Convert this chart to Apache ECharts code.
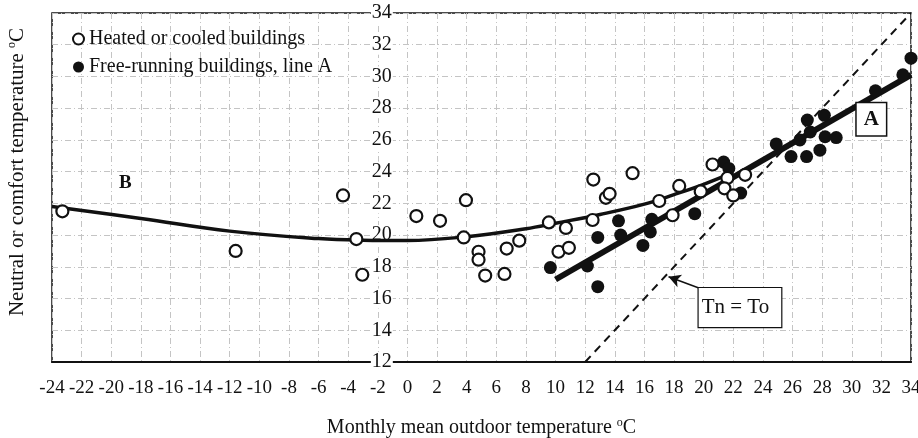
<!DOCTYPE html>
<html><head><meta charset="utf-8">
<script src="https://cdn.jsdelivr.net/npm/echarts@6/dist/echarts.min.js"></script>
<style>html,body{margin:0;padding:0;background:#fff}#c{width:918px;height:438px}</style>
</head><body><div id="c"></div>
<script>
// ---- data ----
const heated = [[-23.3,21.5],[-11.6,19.0],[-4.35,22.5],[-3.45,19.75],[-3.05,17.5],[0.6,21.2],[2.2,20.9],[3.95,22.2],[3.8,19.85],[4.8,18.95],[4.8,18.45],[5.25,17.45],[6.55,17.55],[6.7,19.15],[7.55,19.65],[9.55,20.8],[10.7,20.45],[10.2,18.95],[10.9,19.2],[12.55,23.5],[12.5,20.95],[13.4,22.35],[13.65,22.6],[15.2,23.9],[17.0,22.15],[18.35,23.1],[17.9,21.25],[19.8,22.75],[20.6,24.45],[21.6,23.6],[22.8,23.8],[21.4,22.95],[22.0,22.5]];
const freeRunning = [[9.65,17.95],[12.15,18.05],[12.85,16.75],[12.85,19.85],[14.25,20.9],[14.4,20.0],[15.9,19.35],[16.5,21.0],[16.4,20.2],[19.4,21.35],[21.35,24.6],[21.7,24.2],[22.5,22.65],[24.9,25.75],[25.9,24.95],[26.5,26.0],[26.95,24.95],[27.0,27.25],[27.85,25.35],[28.15,27.55],[28.2,26.2],[28.95,26.15],[27.2,26.5],[31.6,29.1],[33.45,30.1],[34.0,31.15]];
const curveB = [[-24,21.8],[-18,21.05],[-12,20.25],[-6,19.78],[-3,19.68],[0,19.66],[4,19.9],[8,20.4],[10,20.75],[13,21.3],[16,21.95],[18,22.55],[20,23.2],[22,23.95]];
const lineA = [[10,17.2],[34,30.1]];
const lineTnTo = [[12,12],[34,34]];
const labelB = [-19.05,23.26];
const labelA = [31.32,27.3];
const labelTn = [22.45,15.43];
const arrowTn = [[19.77,16.63],[17.63,17.37]];
const xMin=-24, xMax=34, xStep=2, yMin=12, yMax=34, yStep=2;
const yAxisAt = -2;
const legendNames = ['Heated or cooled buildings','Free-running buildings, line A'];

const FONT = "'Liberation Serif','Times New Roman',serif";
const chart = echarts.init(document.getElementById('c'), null, {renderer:'canvas'});
const splitStyle = {show:true, lineStyle:{color:'#c4c4c4', width:1, type:[6,3,1,3]}};
const supRich = {sup:{fontSize:12, fontFamily:FONT, padding:[0,0,10,0], color:'#111'}};
const option = {
  animation:false,
  backgroundColor:'#fff',
  textStyle:{fontFamily:FONT, color:'#111'},
  grid:{left:52, right:7, top:13, bottom:76, containLabel:false, outerBoundsMode:'none',
        show:true, borderColor:'#111', borderWidth:1.5, backgroundColor:'transparent'},
  legend:{
    data:legendNames, orient:'vertical', left:67, top:24, itemWidth:11, itemHeight:11, itemGap:8,
    textStyle:{fontFamily:FONT, fontSize:20, color:'#111'}
  },
  xAxis:{
    type:'value', min:xMin, max:xMax, interval:xStep,
    name:'Monthly mean outdoor temperature {sup|o}C', nameLocation:'middle', nameGap:55,
    nameTextStyle:{fontFamily:FONT, fontSize:20, color:'#111', rich:supRich},
    axisLine:{show:true, onZero:false, lineStyle:{color:'#111', width:2}},
    axisTick:{show:false},
    axisLabel:{fontFamily:FONT, fontSize:19, color:'#111', margin:17},
    splitLine:splitStyle
  },
  yAxis:[{
    type:'value', min:yMin, max:yMax, interval:yStep, position:'left', offset:0,
    axisLine:{show:false, onZero:false},
    axisTick:{show:false},
    axisLabel:{fontFamily:FONT, fontSize:20, color:'#111', align:'center', margin:-4, backgroundColor:'#fff', padding:[0,1]},
    splitLine:splitStyle
  },{
    type:'value', min:yMin, max:yMax, position:'left',
    axisLine:{show:false}, axisTick:{show:false}, axisLabel:{show:false}, splitLine:{show:false},
    name:'Neutral or comfort temperature {sup|o}C', nameLocation:'middle', nameGap:24,
    nameTextStyle:{fontFamily:FONT, fontSize:21, color:'#111', padding:[0,0,0,31], rich:supRich}
  }],
  series:[
    {type:'line', name:'Tn=To', data:lineTnTo, showSymbol:false, symbol:'none', z:2,
     lineStyle:{color:'#111', width:2, type:[8,6]},
     markPoint:{symbol:'rect', symbolSize:1, itemStyle:{color:'transparent'}, silent:true, data:[
       {coord:labelB, label:{show:true, position:'inside', formatter:'B', fontFamily:FONT, fontSize:19, fontWeight:'bold', color:'#111'}},
       {coord:labelA, label:{show:true, position:'inside', formatter:'A', fontFamily:FONT, fontSize:21, fontWeight:'bold', color:'#111', backgroundColor:'#fff', borderColor:'#111', borderWidth:1.5, padding:[6,7,5,7]}},
       {coord:labelTn, label:{show:true, position:'inside', formatter:'Tn = To', fontFamily:FONT, fontSize:21, color:'#111', backgroundColor:'#fff', borderColor:'#111', borderWidth:1.2, padding:[3,12,15,3]}}
     ]},
     markLine:{silent:true, symbol:['none','arrow'], symbolSize:[10,12], label:{show:false},
       lineStyle:{color:'#111', width:1.5, type:'solid'},
       data:[[{coord:arrowTn[0]},{coord:arrowTn[1]}]]}
    },
    {type:'line', name:'B', data:curveB, smooth:0.4, showSymbol:false, symbol:'none', z:3,
     lineStyle:{color:'#111', width:3.5}},
    {type:'line', name:'A', data:lineA, showSymbol:false, symbol:'none', z:3,
     lineStyle:{color:'#111', width:6}},
    {type:'scatter', name:legendNames[1], data:freeRunning, symbol:'circle', symbolSize:13, z:4,
     itemStyle:{color:'#111', borderColor:'#111', borderWidth:0, opacity:1}},
    {type:'scatter', name:legendNames[0], data:heated, symbol:'circle', symbolSize:12, z:5,
     itemStyle:{color:'#fff', borderColor:'#111', borderWidth:2.2, opacity:1}}
  ]
};
chart.setOption(option);
const px = chart.convertToPixel({xAxisIndex:0}, yAxisAt);
const px0 = chart.convertToPixel({xAxisIndex:0}, xMin);
chart.setOption({yAxis:[{offset:-(px-px0)},{}]});
</script></body></html>
